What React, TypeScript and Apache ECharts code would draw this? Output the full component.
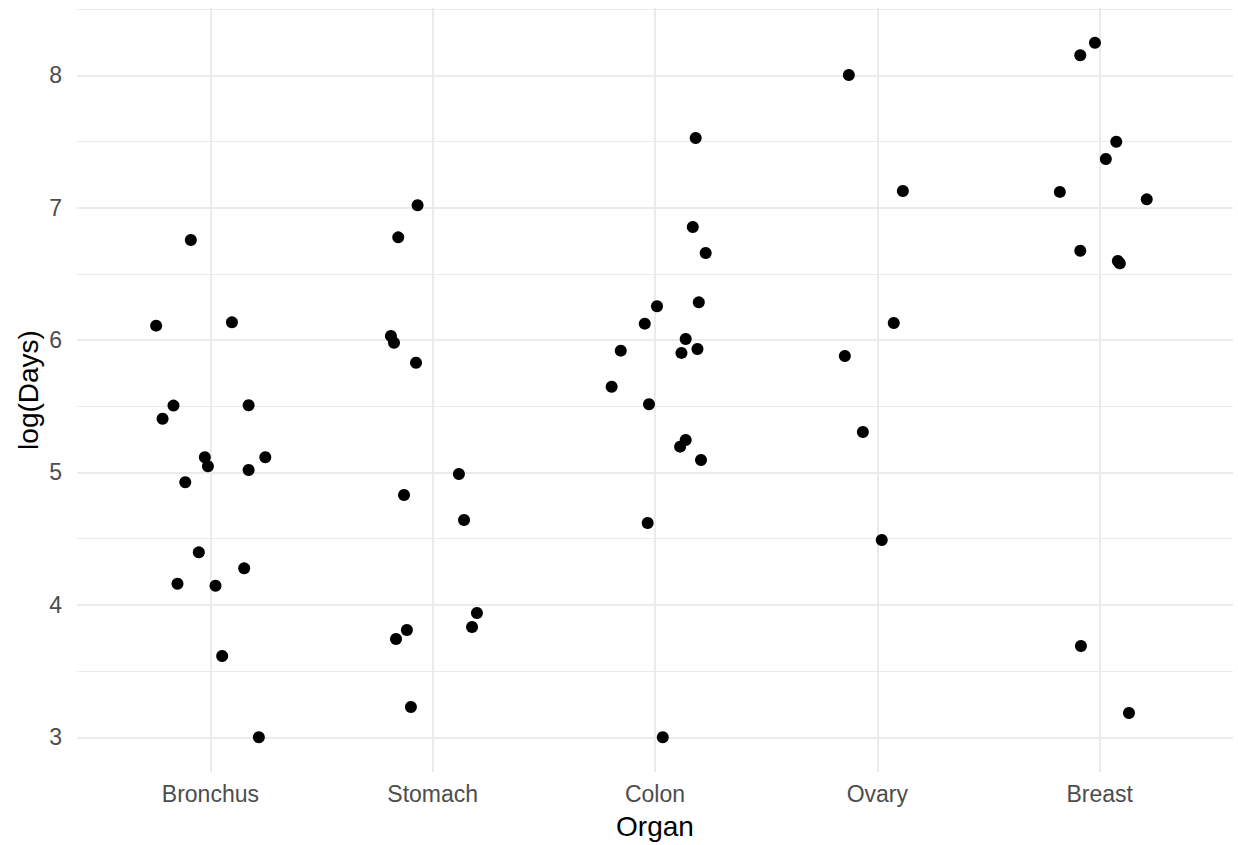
import React, { useEffect, useRef } from "react";
import * as echarts from "echarts";

const categories = ["Bronchus", "Stomach", "Colon", "Ovary", "Breast"];

// jitter offsets (in category units) and log(Days) values per organ
const bronchusJitter = [-0.088, -0.244, 0.097, -0.166, -0.215, 0.172, -0.025, -0.011, 0.247, 0.172, -0.113, -0.052, 0.152, -0.148, 0.023, 0.053, 0.218];
const bronchusLogDays = [6.756, 6.109, 6.134, 5.505, 5.406, 5.508, 5.115, 5.047, 5.115, 5.019, 4.926, 4.397, 4.276, 4.16, 4.145, 3.614, 3.0];

const stomachJitter = [-0.068, -0.155, -0.188, -0.174, -0.075, 0.118, -0.129, 0.141, 0.199, 0.177, -0.116, -0.165, -0.098];
const stomachLogDays = [7.018, 6.776, 6.031, 5.98, 5.829, 4.989, 4.83, 4.641, 3.939, 3.833, 3.81, 3.742, 3.229];

const colonJitter = [0.183, 0.17, 0.228, 0.197, 0.009, -0.046, -0.154, 0.138, 0.191, 0.119, -0.195, -0.027, 0.138, 0.113, 0.207, -0.033, 0.035];
const colonLogDays = [7.526, 6.854, 6.658, 6.285, 6.255, 6.124, 5.92, 6.008, 5.933, 5.903, 5.648, 5.515, 5.245, 5.195, 5.094, 4.619, 3.0];

const ovaryJitter = [-0.128, 0.115, 0.074, -0.146, -0.065, 0.02];
const ovaryLogDays = [8.002, 7.126, 6.129, 5.88, 5.306, 4.49];

const breastJitter = [-0.021, -0.087, 0.075, 0.028, -0.179, 0.212, -0.087, 0.082, 0.091, -0.084, 0.132];
const breastLogDays = [8.246, 8.151, 7.498, 7.368, 7.119, 7.063, 6.675, 6.597, 6.579, 3.69, 3.184];

const yTicks = [3, 4, 5, 6, 7, 8];
const yMinor = [3.5, 4.5, 5.5, 6.5, 7.5, 8.5];
const xTicks = [1, 2, 3, 4, 5];

const groups = [
  { jitter: bronchusJitter, values: bronchusLogDays },
  { jitter: stomachJitter, values: stomachLogDays },
  { jitter: colonJitter, values: colonLogDays },
  { jitter: ovaryJitter, values: ovaryLogDays },
  { jitter: breastJitter, values: breastLogDays },
];

const FONT = "'Liberation Sans', Arial, Helvetica, sans-serif";

export default function App() {
  const ref = useRef<HTMLDivElement>(null);

  useEffect(() => {
    if (!ref.current) return;
    const chart = echarts.init(ref.current, undefined, { renderer: "svg" });

    const points: number[][] = [];
    groups.forEach((g, i) => {
      g.values.forEach((v, j) => points.push([i + 1 + g.jitter[j], v]));
    });

    const gridColor = "#ebebeb";
    const markData: any[] = [
      ...yMinor.map((v) => ({ yAxis: v, lineStyle: { color: gridColor, width: 1, type: "solid" } })),
      ...yTicks.map((v) => ({ yAxis: v, lineStyle: { color: gridColor, width: 2, type: "solid" } })),
      ...xTicks.map((v) => ({ xAxis: v, lineStyle: { color: gridColor, width: 2, type: "solid" } })),
    ];

    chart.setOption({
      animation: false,
      backgroundColor: "#ffffff",
      grid: { left: 77, right: 5, top: 8, bottom: 73, containLabel: false },
      xAxis: {
        type: "value",
        min: 0.4,
        max: 5.6,
        axisLine: { show: false },
        axisTick: { show: false },
        splitLine: { show: false },
        axisLabel: {
          customValues: xTicks,
          formatter: (v: number) => categories[Math.round(v) - 1] ?? "",
          color: "#4d4d4d",
          fontSize: 23,
          fontFamily: FONT,
          margin: 10,
        },
      },
      yAxis: {
        type: "value",
        min: 2.738,
        max: 8.508,
        axisLine: { show: false },
        axisTick: { show: false },
        splitLine: { show: false },
        axisLabel: {
          customValues: yTicks,
          formatter: (v: number) => String(v),
          color: "#4d4d4d",
          fontSize: 23,
          fontFamily: FONT,
          margin: 15,
        },
      },
      graphic: [
        {
          type: "text",
          x: 655,
          y: 826,
          style: { text: "Organ", fill: "#000", font: `28px ${FONT}`, align: "center", verticalAlign: "middle" },
        },
        {
          type: "text",
          x: 28,
          y: 390,
          rotation: Math.PI / 2,
          style: { text: "log(Days)", fill: "#000", font: `28px ${FONT}`, align: "center", verticalAlign: "middle" },
        },
      ],
      series: [
        {
          type: "line",
          data: [[0.4, 2.738]],
          showSymbol: false,
          symbol: "none",
          lineStyle: { opacity: 0 },
          z: 1,
          silent: true,
          markLine: {
            silent: true,
            symbol: "none",
            label: { show: false },
            animation: false,
            data: markData,
          },
        },
        {
          type: "scatter",
          data: points,
          symbolSize: 12,
          itemStyle: { color: "#000000", opacity: 1 },
          z: 5,
        },
      ],
    });

    return () => chart.dispose();
  }, []);

  return (
    <div
      ref={ref}
      style={{ position: "fixed", left: 0, top: 0, width: 1238, height: 845 }}
    />
  );
}
